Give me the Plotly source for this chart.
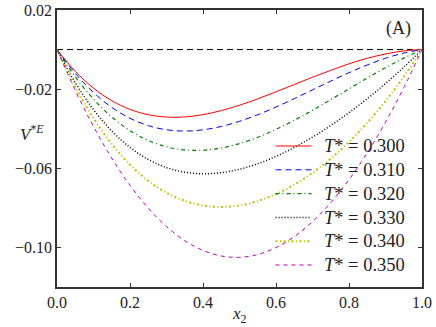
import plotly.graph_objects as go

x2 = [0.0, 0.05, 0.10, 0.15, 0.20, 0.25, 0.30, 0.35, 0.40, 0.45, 0.50,
      0.55, 0.60, 0.65, 0.70, 0.75, 0.80, 0.85, 0.90, 0.95, 1.0]

v_300 = [0.0, -0.01095, -0.01949, -0.02583, -0.03024, -0.03293, -0.03413, -0.03404, -0.03288, -0.03084, -0.02813,
         -0.02490, -0.02136, -0.01766, -0.01397, -0.01052, -0.00720, -0.00441, -0.00221, -0.00069, 0.0]
v_310 = [0.0, -0.01202, -0.02169, -0.02920, -0.03472, -0.03844, -0.04053, -0.04118, -0.04056, -0.03886, -0.03625,
         -0.03292, -0.02904, -0.02480, -0.02037, -0.01594, -0.01168, -0.00778, -0.00441, -0.00176, 0.0]
v_320 = [0.0, -0.01373, -0.02502, -0.03404, -0.04096, -0.04594, -0.04914, -0.05073, -0.05088, -0.04975, -0.04750,
         -0.04430, -0.04032, -0.03572, -0.03066, -0.02531, -0.01984, -0.01441, -0.00918, -0.00432, 0.0]
v_330 = [0.0, -0.01671, -0.03032, -0.04114, -0.04946, -0.05554, -0.05964, -0.06198, -0.06278, -0.06222, -0.06048,
         -0.05770, -0.05400, -0.04950, -0.04427, -0.03838, -0.03189, -0.02481, -0.01715, -0.00890, 0.0]
v_340 = [0.0, -0.01888, -0.03469, -0.04771, -0.05818, -0.06633, -0.07237, -0.07648, -0.07882, -0.07954, -0.07875,
         -0.07657, -0.07306, -0.06829, -0.06229, -0.05508, -0.04666, -0.03700, -0.02605, -0.01375, 0.0]
v_350 = [0.0, -0.02059, -0.03888, -0.05489, -0.06864, -0.08016, -0.08946, -0.09657, -0.10152, -0.10432, -0.10500,
         -0.10358, -0.10008, -0.09453, -0.08694, -0.07734, -0.06576, -0.05221, -0.03672, -0.01931, 0.0]

temps = ["0.300", "0.310", "0.320", "0.330", "0.340", "0.350"]
zero_x = [0.0, 1.0]
zero_y = [0.0, 0.0]

x_ticks = [0.0, 0.2, 0.4, 0.6, 0.8, 1.0]
x_ticktext = ["0.0", "0.2", "0.4", "0.6", "0.8", "1.0"]
y_ticks = [0.02, -0.02, -0.06, -0.10]
y_ticktext = ["0.02", "\u22120.02", "\u22120.06", "\u22120.10"]

series = [v_300, v_310, v_320, v_330, v_340, v_350]
colors = ["#ff0000", "#0000ff", "#008000", "#000000", "#bfbf00", "#bf00bf"]
dashes = ["solid", "6px,4px", "4px,3px,1px,3px", "1px,2px", "2px,2.5px,1px,2.5px", "4px,4px"]
widths = [1.0, 1.0, 1.2, 1.5, 2.0, 1.0]

FONT = "Liberation Serif"

fig = go.Figure()
fig.add_trace(go.Scatter(x=zero_x, y=zero_y, mode="lines", showlegend=False,
                         line=dict(color="black", width=1, dash="6px,4px")))
for t, v, c, d, w in zip(temps, series, colors, dashes, widths):
    fig.add_trace(go.Scatter(x=x2, y=v, mode="lines",
                             name="<span style='font-size:18.5px'>\u2009\u2009<i>T</i>* = " + t + "</span>",
                             line=dict(color=c, width=w, dash=d, shape="spline", smoothing=1.0)))

axis_common = dict(showline=True, linecolor="#333333", linewidth=1.5, mirror="ticks",
                   ticks="inside", ticklen=4, tickcolor="#333333", showgrid=False,
                   zeroline=False, automargin=False,
                   tickfont=dict(family=FONT, size=16, color="#222222"))

fig.update_layout(
    width=436, height=327,
    margin=dict(l=57, r=14, t=10, b=40, autoexpand=False),
    paper_bgcolor="white", plot_bgcolor="white",
    font=dict(family=FONT, size=16, color="#222222"),
    xaxis=dict(range=[0, 1], tickvals=x_ticks, ticktext=x_ticktext, **axis_common),
    yaxis=dict(range=[-0.12, 0.02], tickvals=y_ticks, ticktext=y_ticktext, **axis_common),
    legend=dict(x=0.585, y=0.57, xanchor="left", yanchor="top", bgcolor="rgba(0,0,0,0)",
                borderwidth=0, tracegroupgap=0, itemwidth=36,
                font=dict(family=FONT, size=16, color="#222222")),
    annotations=[
        dict(text="(A)", xref="paper", yref="paper", x=0.975, y=0.935, xanchor="right",
             yanchor="middle", showarrow=False, font=dict(family=FONT, size=18, color="#222222")),
        dict(text="<i>V</i><sup>*<i>E</i></sup>", xref="paper", yref="paper", x=-0.03, y=0.555,
             xanchor="right", yanchor="middle", showarrow=False,
             font=dict(family=FONT, size=17, color="#222222")),
        dict(text="<i>x</i><sub>2</sub>", xref="paper", yref="paper", x=0.5, y=-0.055,
             xanchor="center", yanchor="top", showarrow=False,
             font=dict(family=FONT, size=17, color="#222222")),
    ],
)

fig.write_html("out.html", config={"displayModeBar": False},
               post_script="document.body.style.margin='0';document.body.style.padding='0';")
